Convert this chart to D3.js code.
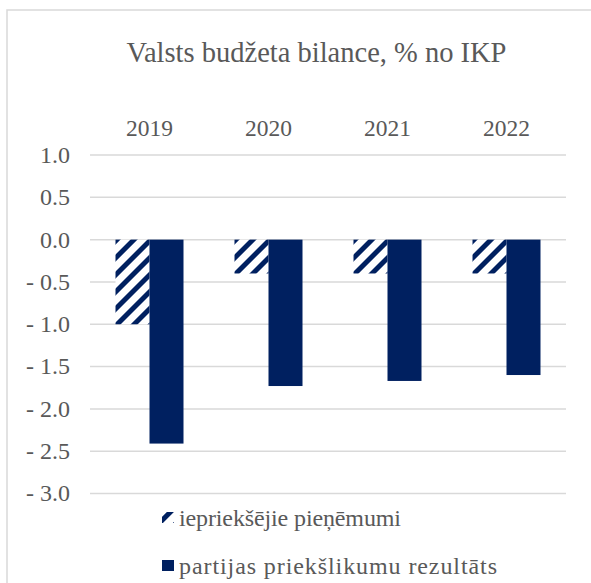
<!DOCTYPE html>
<html>
<head>
<meta charset="utf-8">
<script src="https://cdn.jsdelivr.net/npm/d3@7"></script>
<style>
  html, body { margin: 0; padding: 0; background: #fff; }
  svg { display: block; }
</style>
</head>
<body>
<div id="chart"></div>
<script>
/* data */
const years = ['2019', '2020', '2021', '2022'];
const seriesNames = ['iepriekšējie pieņēmumi', 'partijas priekšlikumu rezultāts'];
const prevAssumptions = [-1.0, -0.4, -0.4, -0.4];
const partyResults = [-2.41, -1.73, -1.67, -1.60];
const yTicks = [1.0, 0.5, 0.0, -0.5, -1.0, -1.5, -2.0, -2.5, -3.0];

const W = 591, H = 583;
const navy = '#002060', grid = '#d9d9d9', txt = '#595959';
const serif = "'Liberation Serif', monospace";

const svg = d3.select('#chart').append('svg').attr('width', W).attr('height', H);

/* hatch pattern */
const defs = svg.append('defs');
const pat = defs.append('pattern').attr('id', 'hatch')
  .attr('patternUnits', 'userSpaceOnUse').attr('width', 12).attr('height', 12)
  .attr('patternTransform', 'rotate(45)');
pat.append('rect').attr('width', 12).attr('height', 12).attr('fill', '#fff');
pat.append('rect').attr('x', 0).attr('width', 5).attr('height', 12).attr('fill', navy);

/* chart frame */
svg.append('rect').attr('x', 7).attr('y', 10).attr('width', W).attr('height', H)
  .attr('fill', 'none').attr('stroke', grid).attr('stroke-width', 1.5);

/* title */
svg.append('text').attr('x', 316.5).attr('y', 62).attr('text-anchor', 'middle')
  .attr('fill', txt).attr('font-family', serif).attr('font-size', 28.5)
  .text('Valsts budžeta bilance, % no IKP');

const plot = { left: 90, right: 566, top: 155, bottom: 493.5 };

const y = d3.scaleLinear().domain([-3, 1]).range([plot.bottom, plot.top]);
const x0 = d3.scaleBand().domain(years).range([plot.left, plot.right])
  .paddingInner(0.4286).paddingOuter(0.2143);
const x1 = d3.scaleBand().domain([0, 1]).range([0, x0.bandwidth()]).padding(0);

/* gridlines */
svg.append('g').selectAll('line').data(yTicks).join('line')
  .attr('x1', plot.left).attr('x2', plot.right)
  .attr('y1', d => y(d)).attr('y2', d => y(d))
  .attr('stroke', grid).attr('stroke-width', 1.5);

/* y labels */
const fmt = d => (d < 0 ? '- ' : '') + Math.abs(d).toFixed(1);
svg.append('g').selectAll('text').data(yTicks).join('text')
  .attr('x', 70).attr('y', d => y(d)).attr('dy', '0.33em')
  .attr('text-anchor', 'end').attr('fill', txt).attr('font-family', serif)
  .attr('font-size', 24)
  .text(fmt);

/* year labels on top */
svg.append('g').selectAll('text').data(years).join('text')
  .attr('x', d => x0(d) + x0.bandwidth() / 2).attr('y', 136)
  .attr('text-anchor', 'middle').attr('fill', txt).attr('font-family', serif)
  .attr('font-size', 23.5)
  .text(d => d);

/* bars */
const rows = years.map((yr, i) => ({ yr, vals: [prevAssumptions[i], partyResults[i]] }));
const groups = svg.append('g').selectAll('g').data(rows).join('g')
  .attr('transform', d => `translate(${x0(d.yr)},0)`);
groups.selectAll('rect').data(d => d.vals.map((v, k) => ({ v, k }))).join('rect')
  .attr('x', d => x1(d.k)).attr('width', x1.bandwidth())
  .attr('y', d => y(Math.max(0, d.v)))
  .attr('height', d => Math.abs(y(d.v) - y(0)))
  .attr('fill', d => d.k === 0 ? 'url(#hatch)' : navy);

/* legend */
const legend = svg.append('g');
const legY = [523, 571];
const legLen = [222, 318];
seriesNames.forEach((name, i) => {
  legend.append('rect').attr('x', 162).attr('y', legY[i] - 11).attr('width', 12).attr('height', 11)
    .attr('fill', i === 0 ? 'url(#hatch)' : navy);
  legend.append('text').attr('x', 179).attr('y', legY[i] + 3)
    .attr('fill', txt).attr('font-family', serif).attr('font-size', 24)
    .attr('textLength', legLen[i]).attr('lengthAdjust', 'spacing')
    .text(name);
});
</script>
</body>
</html>
